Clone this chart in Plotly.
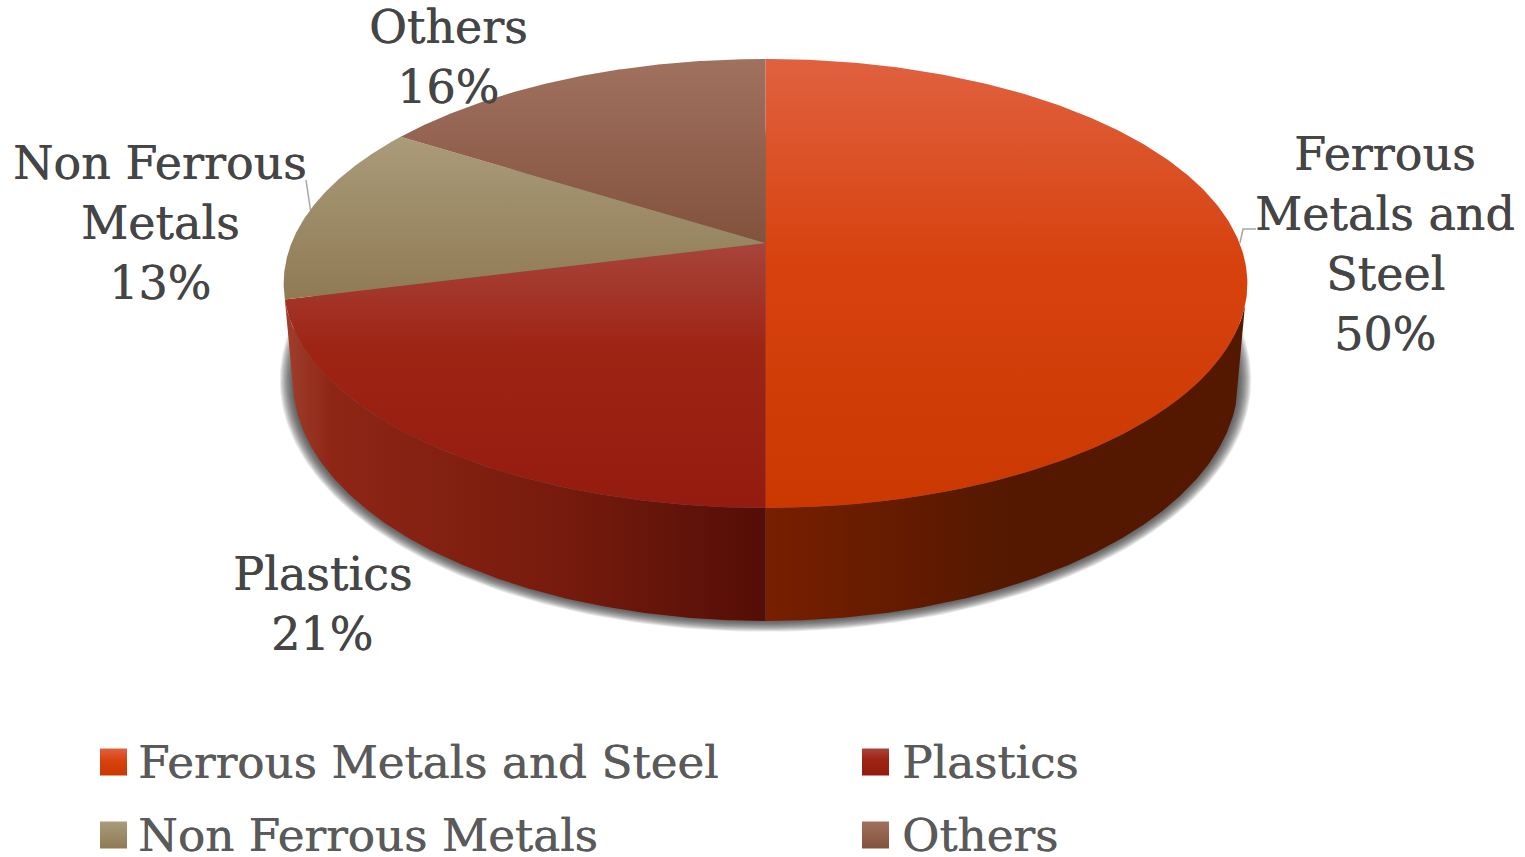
import numpy as np
import plotly.graph_objects as go

# Share of each material, percent, clockwise from twelve o'clock
categories = ["Ferrous Metals and Steel", "Plastics", "Non Ferrous Metals", "Others"]
shares = [50, 21, 13, 16]

# Label text split over lines, with the first line's centre for each slice
label_lines = [["Ferrous", "Metals and", "Steel"], ["Plastics"], ["Non Ferrous", "Metals"], ["Others"]]
label_x = [1385, 322, 160, 448]
label_first_y = [154, 574, 163, 27]

# Disc geometry in page pixels
CX = 765.5
PERSP = 0.18
TOP = dict(apex=243, a=217.2, b=474.0)
BOTTOM = dict(apex=336.8, a=233.0, b=465.0)

# Per-slice colour stops, first stop at the upper edge of the slice
top_scales = [
    [[0, "#E0613F"], [0.45, "#D7420F"], [1, "#CB3800"]],
    [[0, "#A8443C"], [0.4, "#9E2414"], [1, "#941B0F"]],
    [[0, "#AA9B79"], [1, "#8F7A54"]],
    [[0, "#A17160"], [1, "#83523D"]],
]
wall_scales = {
    0: [[0, "#781F00"], [0.5, "#541800"], [1, "#541800"]],
    1: [[0, "#A03E2C"], [0.1, "#8E2615"], [0.6, "#751A0D"], [1, "#530E06"]],
}
TEXT_DARK = "#454545"
TEXT_LEGEND = "#5A5A5A"
FONT = "DejaVu Serif"
LABEL_SIZE = 46
LEGEND_SIZE = 45.3
LINE_STEP = 60
WALL_START = np.radians(106)


def rim(theta, g):
    """Project points of the unit circle onto the page with a simple perspective."""
    u, v = np.sin(theta), np.cos(theta)
    w = 1 + PERSP * v
    return CX + g["b"] * u / w, g["apex"] - g["a"] * v / w


def flipped(scale):
    # The y axis runs downward, so gradient stops are given from the far end
    return [[round(1 - t, 4), c] for t, c in reversed(scale)]


def area(x, y, scale=None, orientation="vertical", color=None):
    trace = dict(x=list(x), y=list(y), mode="lines", line=dict(width=0), fill="toself",
                 hoverinfo="skip", showlegend=False)
    if scale is not None:
        stops = flipped(scale) if orientation == "vertical" else scale
        trace["fillgradient"] = dict(type=orientation, colorscale=stops)
    if color is not None:
        trace["fillcolor"] = color
    return go.Scatter(**trace)


def text_font(size, color):
    return dict(family=FONT, size=size, color=color, shadow=f"0.5px 0 0.6px {color}")


edges = np.concatenate([[0], np.cumsum(shares)]) / sum(shares) * 2 * np.pi
fig = go.Figure()

# Soft shadow under the disc
ring = np.linspace(0, 2 * np.pi, 361)
for d in range(13, 0, -1):
    bx, by = rim(ring, BOTTOM)
    sx = CX + (bx - CX) * (1 + d / 473)
    sy = 380 + (by - 380) * (1 + d / 290)
    fig.add_trace(area(sx, sy, color="rgba(60,60,60,0.1)"))

# Side walls of the two front slices
wall_range = {0: (WALL_START, edges[1]), 1: (edges[1], edges[2])}
for i, (t0, t1) in wall_range.items():
    th = np.linspace(t0, t1, 160)
    tx, ty = rim(th, TOP)
    bx, by = rim(th[::-1], BOTTOM)
    fig.add_trace(area(np.r_[tx, bx], np.r_[ty, by], wall_scales[i], "horizontal"))

# Leader lines
fig.add_trace(go.Scatter(x=[1256, 1243, 1240], y=[229, 229, 243], mode="lines",
                         line=dict(color="#A6A6A6", width=1.5), hoverinfo="skip", showlegend=False))
fig.add_trace(go.Scatter(x=[306, 310.5], y=[180, 210], mode="lines",
                         line=dict(color="#A6A6A6", width=1.5), hoverinfo="skip", showlegend=False))

# Top face slices
for i in range(len(shares)):
    th = np.linspace(edges[i], edges[i + 1], 240)
    x, y = rim(th, TOP)
    fig.add_trace(area(np.r_[CX, x, CX], np.r_[TOP["apex"], y, TOP["apex"]], top_scales[i]))

annotations = []
for i, lines in enumerate(label_lines):
    rows = lines + [f"{shares[i]}%"]
    for k, row in enumerate(rows):
        annotations.append(dict(x=label_x[i], y=label_first_y[i] + k * LINE_STEP, text=row,
                                showarrow=False, xanchor="center", yanchor="middle",
                                font=text_font(LABEL_SIZE, TEXT_DARK)))

# Legend: gradient swatch plus text, two columns
legend_col_x = [100, 862]
legend_text_x = [136, 900]
legend_row_y = [762, 835]
SWATCH = 27
for i, name in enumerate(categories):
    row, col = i // 2, i % 2
    x0 = legend_col_x[col]
    y0 = legend_row_y[row] - SWATCH / 2
    fig.add_trace(area([x0, x0 + SWATCH, x0 + SWATCH, x0, x0],
                       [y0, y0, y0 + SWATCH, y0 + SWATCH, y0], top_scales[i]))
    annotations.append(dict(x=legend_text_x[col], y=legend_row_y[row], text=name, showarrow=False,
                            xanchor="left", yanchor="middle",
                            font=text_font(LEGEND_SIZE, TEXT_LEGEND)))

fig.update_layout(
    width=1525, height=857, margin=dict(l=0, r=0, t=0, b=0),
    paper_bgcolor="white", plot_bgcolor="white", annotations=annotations,
    xaxis=dict(range=[0, 1525], visible=False, fixedrange=True),
    yaxis=dict(range=[857, 0], visible=False, fixedrange=True),
)
fig.write_html("out.html", config=dict(displayModeBar=False))
